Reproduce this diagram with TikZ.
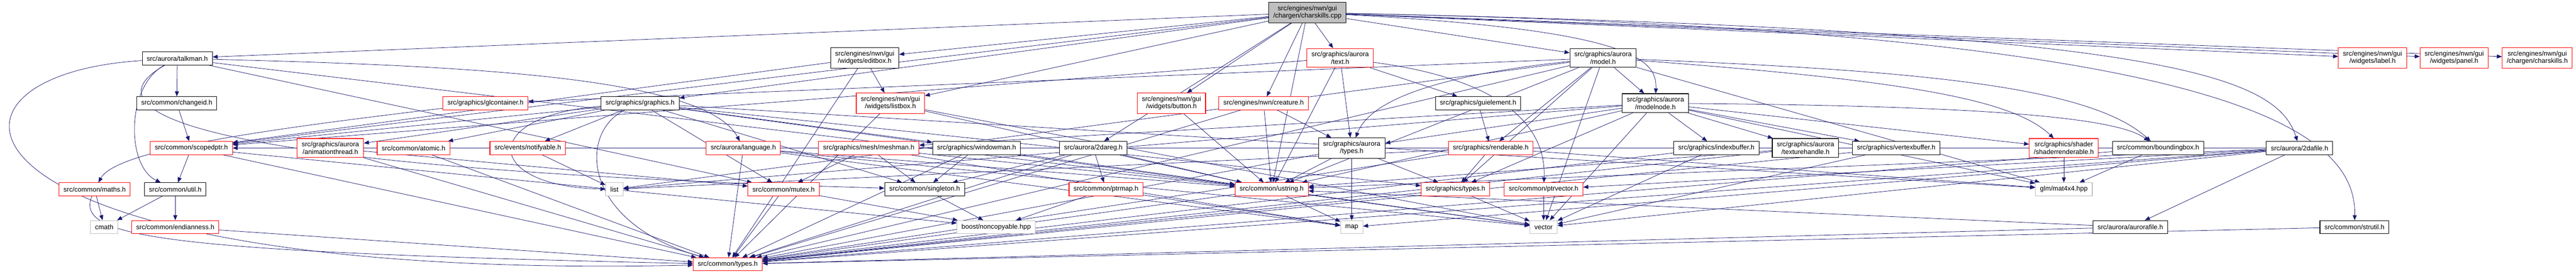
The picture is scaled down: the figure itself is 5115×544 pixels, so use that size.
\documentclass[tikz,border=0pt]{standalone}
\usepackage{fontspec}
\setmainfont{Liberation Sans}
\usepackage{tikz}
\usetikzlibrary{arrows.meta}
\definecolor{edgeblue}{RGB}{25,25,112}
\definecolor{filegrey}{RGB}{191,191,191}
\pgfdeclarelayer{back}
\pgfsetlayers{back,main}

\begin{document}
\begin{tikzpicture}[x=1pt,y=-1pt,
    box/.style={rectangle, fill=white, line width=1.1pt, inner xsep=9pt, inner ysep=6.6pt,
                minimum height=26pt, align=center, font=\fontsize{13.3}{14.6}\selectfont},
    hdr/.style={box, draw=black},
    cut/.style={box, draw=red},
    sys/.style={box, draw=filegrey},
    rootfile/.style={box, draw=black, fill=filegrey},
    inc/.style={draw=edgeblue, line width=0.8pt, -{Triangle[length=10pt,width=8pt]}}]
    \useasboundingbox (0,0) rectangle (5115,544);

    \node[rootfile] (root) at (2596,25) {src/engines/nwn/gui\\/chargen/charskills.cpp};

    \node[hdr] (talkman) at (352,116) {src/aurora/talkman.h};
    \node[hdr] (editbox) at (1717,115) {src/engines/nwn/gui\\/widgets/editbox.h};
    \node[cut] (text) at (2661,115) {src/graphics/aurora\\/text.h};
    \node[hdr] (model) at (3183,115) {src/graphics/aurora\\/model.h};
    \node[cut] (label) at (4711,115) {src/engines/nwn/gui\\/widgets/label.h};
    \node[cut] (panel) at (4873,115) {src/engines/nwn/gui\\/widgets/panel.h};
    \node[cut] (charskillsh) at (5038,115) {src/engines/nwn/gui\\/chargen/charskills.h};

    \node[hdr] (changeid) at (351,205) {src/common/changeid.h};
    \node[cut] (glcontainer) at (964,205) {src/graphics/glcontainer.h};
    \node[hdr] (graphics) at (1271,205) {src/graphics/graphics.h};
    \node[cut] (listbox) at (1768,205) {src/engines/nwn/gui\\/widgets/listbox.h};
    \node[cut] (button) at (2326,205) {src/engines/nwn/gui\\/widgets/button.h};
    \node[cut] (creature) at (2509,205) {src/engines/nwn/creature.h};
    \node[hdr] (guielement) at (2935,205) {src/graphics/guielement.h};
    \node[hdr] (modelnode) at (3287,205) {src/graphics/aurora\\/modelnode.h};

    \node[cut] (scopedptr) at (380,294) {src/common/scopedptr.h};
    \node[cut] (animthread) at (656,294) {src/graphics/aurora\\/animationthread.h};
    \node[cut] (atomic) at (821,294) {src/common/atomic.h};
    \node[cut] (notifyable) at (1048,294) {src/events/notifyable.h};
    \node[cut] (language) at (1476,294) {src/aurora/language.h};
    \node[cut] (meshman) at (1725,294) {src/graphics/mesh/meshman.h};
    \node[hdr] (windowman) at (1939,294) {src/graphics/windowman.h};
    \node[hdr] (twodareg) at (2171,294) {src/aurora/2dareg.h};
    \node[hdr] (auroratypes) at (2684,294) {src/graphics/aurora\\/types.h};
    \node[cut] (renderable) at (2960,294) {src/graphics/renderable.h};
    \node[hdr] (indexbuffer) at (3408,294) {src/graphics/indexbuffer.h};
    \node[hdr] (texturehandle) at (3585,294) {src/graphics/aurora\\/texturehandle.h};
    \node[hdr] (vertexbuffer) at (3765,294) {src/graphics/vertexbuffer.h};
    \node[cut] (shaderrend) at (4098,294) {src/graphics/shader\\/shaderrenderable.h};
    \node[hdr] (boundingbox) at (4285,294) {src/common/boundingbox.h};
    \node[hdr] (twodafile) at (4566,294) {src/aurora/2dafile.h};

    \node[cut] (maths) at (188,376) {src/common/maths.h};
    \node[hdr] (util) at (348,376) {src/common/util.h};
    \node[sys] (list) at (1220,376) {list};
    \node[cut] (mutex) at (1556,376) {src/common/mutex.h};
    \node[hdr] (singleton) at (1836,376) {src/common/singleton.h};
    \node[cut] (ptrmap) at (2196,376) {src/common/ptrmap.h};
    \node[cut] (ustring) at (2525,376) {src/common/ustring.h};
    \node[cut] (gfxtypes) at (2890,376) {src/graphics/types.h};
    \node[cut] (ptrvector) at (3065,376) {src/common/ptrvector.h};
    \node[sys] (mat) at (4098,376) {glm/mat4x4.hpp};

    \node[sys] (cmath) at (207,451) {cmath};
    \node[cut] (endianness) at (348,451) {src/common/endianness.h};
    \node[sys] (noncopyable) at (1978,451) {boost/noncopyable.hpp};
    \node[sys] (map) at (2684,451) {map};
    \node[sys] (vector) at (3065,451) {vector};
    \node[hdr] (aurorafile) at (4230,451) {src/aurora/aurorafile.h};
    \node[hdr] (strutil) at (4675,451) {src/common/strutil.h};

    \node[cut] (types) at (1445,525) {src/common/types.h};

    \begin{pgfonlayer}{back}
    \draw[inc] (root) -- (talkman);
    \draw[inc] (root) -- (scopedptr);
    \draw[inc] (root) -- (editbox);
    \draw[inc] (root) -- (graphics);
    \draw[inc] (root) -- (listbox);
    \draw[inc] (root) -- (twodareg);
    \draw[inc] (root) -- (button);
    \draw[inc] (root) -- (creature);
    \draw[inc] (root) -- (ustring);
    \draw[inc] (root) -- (text);
    \draw[inc] (root) -- (model);
    \draw[inc] (root) .. controls (3250,60) and (3290,120) .. (modelnode);
    \draw[inc] (root) -- (label);
    \draw[inc] (root) -- (panel);
    \draw[inc] (root) -- (charskillsh);
    \draw[inc] (root) .. controls (4300,60) and (4520,150) .. (twodafile);
    \draw[inc] (root) .. controls (4400,60) and (4680,250) .. (strutil);

    \draw[inc] (talkman) -- (changeid);
    \draw[inc] (talkman) .. controls (250,170) and (250,330) .. (util);
    \draw[inc] (talkman) .. controls (200,200) and (230,330) .. (singleton);
    \draw[inc] (talkman) -- (mutex);
    \draw[inc] (talkman) .. controls (-200,150) and (-120,560) .. (types);
    \draw[inc] (talkman) .. controls (900,130) and (1400,150) .. (language);
    \draw[inc] (talkman) -- (ustring);

    \draw[inc] (editbox) -- (listbox);
    \draw[inc] (editbox) -- (scopedptr);
    \draw[inc] (editbox) -- (types);

    \draw[inc] (text) -- (scopedptr);
    \draw[inc] (text) -- (ustring);
    \draw[inc] (text) -- (auroratypes);
    \draw[inc] (text) .. controls (3000,160) and (3070,260) .. (ptrvector);
    \draw[inc] (text) -- (guielement);

    \draw[inc] (model) -- (glcontainer);
    \draw[inc] (model) -- (ustring);
    \draw[inc] (model) .. controls (2850,150) and (2720,200) .. (auroratypes);
    \draw[inc] (model) -- (renderable);
    \draw[inc] (model) -- (gfxtypes);
    \draw[inc] (model) -- (modelnode);
    \draw[inc] (model) .. controls (3800,140) and (4150,170) .. (boundingbox);
    \draw[inc] (model) .. controls (3800,160) and (4000,200) .. (shaderrend);
    \draw[inc] (model) -- (mat);
    \draw[inc] (model) -- (vector);
    \draw[inc] (model) -- (list);
    \draw[inc] (model) -- (types);

    \draw[inc] (changeid) -- (scopedptr);
    \draw[inc] (glcontainer) .. controls (500,260) and (230,300) .. (maths);

    \draw[inc] (graphics) -- (scopedptr);
    \draw[inc] (graphics) -- (animthread);
    \draw[inc] (graphics) -- (atomic);
    \draw[inc] (graphics) -- (notifyable);
    \draw[inc] (graphics) .. controls (950,230) and (960,370) .. (list);
    \draw[inc] (graphics) .. controls (1150,260) and (1150,440) .. (types);
    \draw[inc] (graphics) -- (singleton);
    \draw[inc] (graphics) -- (mutex);
    \draw[inc] (graphics) -- (gfxtypes);
    \draw[inc] (graphics) -- (windowman);
    \draw[inc] (graphics) -- (mat);
    \draw[inc] (graphics) -- (vector);

    \draw[inc] (listbox) -- (ustring);
    \draw[inc] (listbox) -- (vector);
    \draw[inc] (listbox) -- (types);
    \draw[inc] (button) -- (ustring);
    \draw[inc] (creature) -- (ustring);
    \draw[inc] (creature) -- (auroratypes);
    \draw[inc] (creature) -- (types);
    \draw[inc] (guielement) -- (renderable);

    \draw[inc] (modelnode) -- (auroratypes);
    \draw[inc] (modelnode) -- (gfxtypes);
    \draw[inc] (modelnode) -- (indexbuffer);
    \draw[inc] (modelnode) -- (texturehandle);
    \draw[inc] (modelnode) -- (vertexbuffer);
    \draw[inc] (modelnode) -- (shaderrend);
    \draw[inc] (modelnode) .. controls (3900,210) and (4200,230) .. (boundingbox);
    \draw[inc] (modelnode) -- (mat);
    \draw[inc] (modelnode) -- (meshman);
    \draw[inc] (modelnode) -- (ustring);
    \draw[inc] (modelnode) -- (vector);
    \draw[inc] (modelnode) -- (list);

    \draw[inc] (scopedptr) -- (util);
    \draw[inc] (scopedptr) -- (types);
    \draw[inc] (scopedptr) -- (noncopyable);
    \draw[inc] (animthread) -- (mutex);
    \draw[inc] (animthread) -- (types);
    \draw[inc] (atomic) -- (types);
    \draw[inc] (notifyable) -- (list);
    \draw[inc] (language) -- (types);
    \draw[inc] (language) -- (ustring);
    \draw[inc] (language) -- (vector);
    \draw[inc] (language) -- (map);
    \draw[inc] (meshman) -- (mutex);
    \draw[inc] (meshman) -- (singleton);
    \draw[inc] (meshman) -- (ustring);
    \draw[inc] (meshman) -- (map);
    \draw[inc] (windowman) -- (singleton);
    \draw[inc] (windowman) -- (ustring);
    \draw[inc] (windowman) -- (types);
    \draw[inc] (twodareg) -- (singleton);
    \draw[inc] (twodareg) -- (ptrmap);
    \draw[inc] (twodareg) -- (ustring);
    \draw[inc] (twodareg) -- (types);
    \draw[inc] (auroratypes) -- (gfxtypes);
    \draw[inc] (auroratypes) -- (map);
    \draw[inc] (auroratypes) -- (ustring);
    \draw[inc] (auroratypes) -- (types);
    \draw[inc] (renderable) -- (gfxtypes);
    \draw[inc] (renderable) -- (list);
    \draw[inc] (renderable) -- (types);
    \draw[inc] (renderable) -- (mat);
    \draw[inc] (indexbuffer) -- (types);
    \draw[inc] (indexbuffer) -- (vector);
    \draw[inc] (texturehandle) -- (types);
    \draw[inc] (texturehandle) -- (ustring);
    \draw[inc] (vertexbuffer) -- (types);
    \draw[inc] (vertexbuffer) -- (vector);
    \draw[inc] (shaderrend) -- (mat);
    \draw[inc] (boundingbox) -- (mat);
    \draw[inc] (boundingbox) -- (types);
    \draw[inc] (twodafile) -- (aurorafile);
    \draw[inc] (twodafile) -- (ustring);
    \draw[inc] (twodafile) -- (types);
    \draw[inc] (twodafile) -- (map);
    \draw[inc] (twodafile) -- (vector);
    \draw[inc] (twodafile) -- (ptrvector);
    \draw[inc] (twodafile) -- (scopedptr);

    \draw[inc] (maths) -- (cmath);
    \draw[inc] (maths) .. controls (150,470) and (300,500) .. (types);
    \draw[inc] (util) -- (cmath);
    \draw[inc] (util) -- (endianness);
    \draw[inc] (mutex) -- (types);
    \draw[inc] (mutex) -- (noncopyable);
    \draw[inc] (singleton) -- (noncopyable);
    \draw[inc] (ptrmap) -- (noncopyable);
    \draw[inc] (ptrmap) -- (map);
    \draw[inc] (ustring) -- (types);
    \draw[inc] (ustring) -- (vector);
    \draw[inc] (ustring) -- (map);
    \draw[inc] (gfxtypes) -- (vector);
    \draw[inc] (gfxtypes) -- (types);
    \draw[inc] (ptrvector) -- (vector);

    \draw[inc] (endianness) -- (types);
    \draw[inc] (aurorafile) -- (types);
    \draw[inc] (aurorafile) -- (ustring);
    \draw[inc] (strutil) -- (types);
    \end{pgfonlayer}
\end{tikzpicture}
\end{document}
